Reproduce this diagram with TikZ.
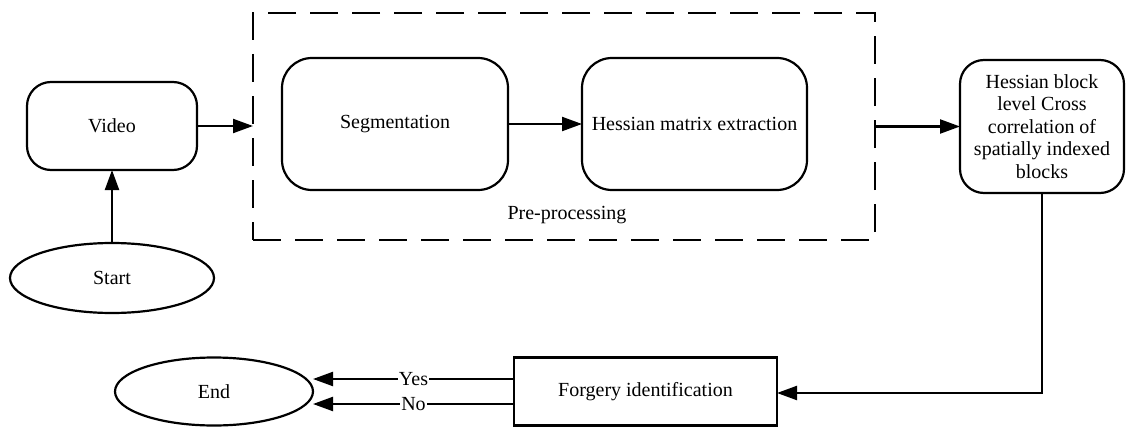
\documentclass[tikz,border=0pt]{standalone}
\usepackage{fontspec}
\setmainfont{Liberation Serif}
\usetikzlibrary{arrows.meta,shapes.geometric}
\begin{document}
\begin{tikzpicture}[x=1pt,y=-1pt,
  every node/.style={font=\fontsize{20}{22.5}\selectfont, inner sep=0pt, outer sep=0pt},
  rbox/.style={draw, line width=2.2pt, rounded corners=#1, align=center},
  rbox/.default=24pt,
  oval/.style={draw, ellipse, line width=2.2pt},
  sbox/.style={draw, line width=2.2pt},
  conn/.style={line width=2.2pt, -{Triangle[length=20pt,width=14pt]}},
  grp/.style={draw, line width=2.2pt, dash pattern=on 28pt off 14pt}
]
\useasboundingbox (0,0) rectangle (1127,428);
\node[grp, minimum width=622pt, minimum height=227pt] (pre) at (564,126.5) {};
\node (prel) at (567,215) {Pre-processing};
\node[rbox=24pt, minimum width=170pt, minimum height=88pt] (video) at (112,126) {Video};
\node[oval, minimum width=204pt, minimum height=70pt] (start) at (112,278) {Start};
\node[rbox=30pt, minimum width=226pt, minimum height=132pt] (seg) at (395,124) {Segmentation};
\node[rbox=30pt, minimum width=225pt, minimum height=132pt] (hess) at (694.5,124) {Hessian matrix extraction};
\node[rbox=24pt, minimum width=164pt, minimum height=133pt] (block) at (1042,126.5) {Hessian block\\level Cross\\correlation of\\spatially indexed\\blocks};
\node[sbox, minimum width=263pt, minimum height=68pt] (forg) at (645.5,391.5) {Forgery identification};
\node[oval, minimum width=198pt, minimum height=68pt] (end) at (214,391.5) {End};
\coordinate (c1) at (1042,393);
\draw[conn] (start) -- (video);
\draw[conn] (video.east) -- (pre.west |- video.east);
\draw[conn] (seg.east |- hess.west) -- (hess.west);
\draw[conn] (pre.east |- block.west) -- (block.west);
\draw[conn] (block.south) -- (c1) -- (forg.east |- c1);
\draw[conn] ([yshift=12.5pt]forg.west) -- node[fill=white, inner xsep=1pt] {Yes} ([yshift=12.5pt]forg.west -| end.east);
\draw[conn] ([yshift=-12.5pt]forg.west) -- node[fill=white, inner xsep=1pt] {No} ([yshift=-12.5pt]forg.west -| end.east);
\end{tikzpicture}
\end{document}
